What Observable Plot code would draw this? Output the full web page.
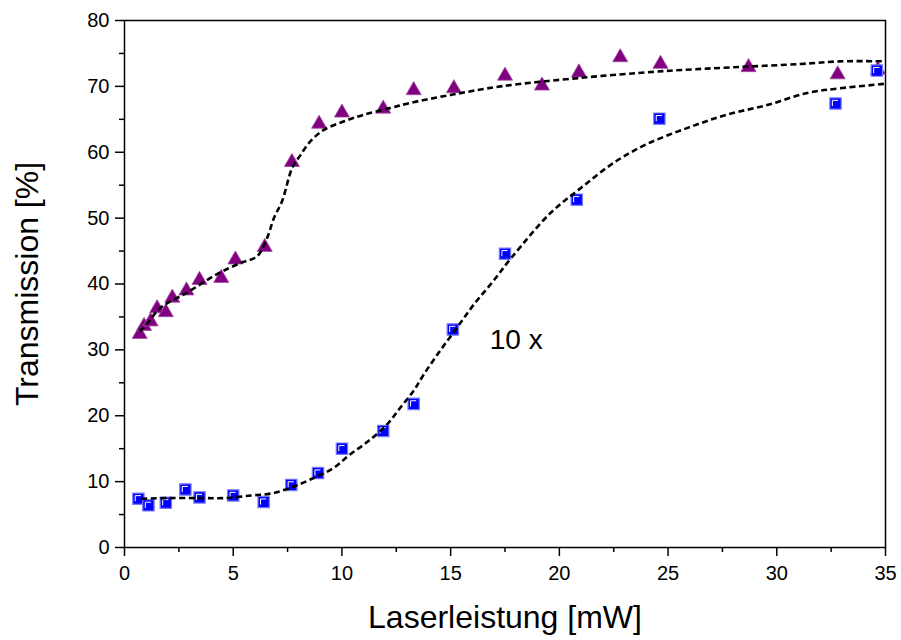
<!DOCTYPE html>
<html>
<head>
<meta charset="utf-8">
<script src="https://cdn.jsdelivr.net/npm/d3@7"></script>
<script src="https://cdn.jsdelivr.net/npm/@observablehq/plot@0.6"></script>
<style>
  html, body { margin: 0; padding: 0; background: #fff; }
  #chart { width: 901px; height: 640px; }
</style>
</head>
<body>
<div id="chart"></div>
<script>
// Measured points, triangle series (undiluted sample)
const triPower = [0.7, 0.9, 1.2, 1.5, 1.9, 2.2, 2.85, 3.45, 4.45, 5.1, 6.45, 7.7, 8.95, 10.0, 11.9, 13.3, 15.15, 17.5, 19.2, 20.9, 22.8, 24.65, 28.7, 32.8, 34.65];
const triTrans = [32.4, 33.6, 34.3, 36.3, 35.7, 37.9, 39.0, 40.6, 40.9, 43.7, 45.6, 58.5, 64.3, 66.0, 66.6, 69.4, 69.7, 71.6, 70.1, 72.1, 74.4, 73.4, 72.9, 71.8, 72.5];

// Measured points, square series (10 x)
const sqPower = [0.64, 1.1, 1.9, 2.8, 3.45, 5.0, 6.4, 7.67, 8.9, 10.0, 11.9, 13.3, 15.1, 17.5, 20.8, 24.6, 32.7, 34.6];
const sqTrans = [7.4, 6.4, 6.8, 8.8, 7.6, 7.9, 6.9, 9.5, 11.3, 15.0, 17.7, 21.8, 33.1, 44.6, 52.8, 65.1, 67.4, 72.4];

// Fitted guide curves
const triFitPower = [0.7, 1.0, 1.66, 2.88, 4.26, 5.34, 6.1, 6.56, 6.87, 7.25, 7.71, 8.1, 8.56, 9.17, 10.1, 11.0, 12.2, 13.15, 15.0, 17.3, 21.0, 24.3, 25.7, 28.0, 31.1, 32.9, 35.0];
const triFitTrans = [32.8, 33.8, 36.4, 38.7, 41.5, 43.2, 44.2, 47.0, 50.0, 52.6, 57.6, 59.6, 61.7, 63.4, 64.7, 65.7, 66.7, 67.5, 68.7, 70.0, 71.3, 72.2, 72.5, 72.9, 73.4, 73.8, 73.8];
const sqFitPower = [0.77, 2.0, 3.5, 4.6, 5.83, 6.75, 7.67, 8.6, 9.63, 10.4, 11.16, 12.08, 12.7, 13.3, 13.77, 14.5, 15.3, 16.07, 16.9, 17.8, 19.6, 21.0, 22.5, 24.0, 25.9, 27.7, 29.6, 31.4, 32.9, 35.0];
const sqFitTrans = [7.4, 7.5, 7.5, 7.5, 7.9, 8.2, 9.1, 10.4, 12.1, 14.2, 16.0, 18.7, 21.3, 23.8, 26.3, 29.8, 33.4, 36.9, 40.2, 44.0, 50.8, 54.6, 58.4, 61.2, 63.7, 65.7, 67.2, 69.0, 69.7, 70.4];

// Axis ticks
const xMajor = [0, 5, 10, 15, 20, 25, 30, 35];
const xMinor = [2.5, 7.5, 12.5, 17.5, 22.5, 27.5, 32.5];
const yMajor = [0, 10, 20, 30, 40, 50, 60, 70, 80];
const yMinor = [5, 15, 25, 35, 45, 55, 65, 75];

const xTitle = "Laserleistung [mW]";
const yTitle = "Transmission [%]";
const annotation = "10 x";

const zip = (xs, ys) => xs.map((x, i) => ({x, y: ys[i]}));
const triangles = zip(triPower, triTrans);
const squares = zip(sqPower, sqTrans);
const triFit = zip(triFitPower, triFitTrans);
const sqFit = zip(sqFitPower, sqFitTrans);

// White corner highlight drawn inside each square marker
const squareHighlight = {
  draw(context, size) {
    const s = Math.sqrt(size) / 2;
    context.moveTo(-s * 0.55, s * 0.45);
    context.lineTo(-s * 0.55, -s * 0.55);
    context.lineTo(s * 0.45, -s * 0.55);
  }
};

const fitStyle = {x: "x", y: "y", curve: "catmull-rom", stroke: "#000", strokeWidth: 2.6, strokeDasharray: "6,3.5", strokeLinecap: "butt"};

const chart = Plot.plot({
  width: 901,
  height: 640,
  marginLeft: 124,
  marginRight: 16,
  marginTop: 20,
  marginBottom: 93,
  x: {domain: [0, 35]},
  y: {domain: [0, 80]},
  style: {fontFamily: "'Liberation Sans', Arial, sans-serif", color: "#000", background: "#fff"},
  marks: [
    Plot.frame({stroke: "#000", strokeWidth: 1.5}),
    Plot.axisX({ticks: xMajor, tickSize: 9, tickPadding: 9, fontSize: 20, label: null, strokeWidth: 1.5}),
    Plot.axisX({ticks: xMinor, tickSize: 5, text: null, label: null, strokeWidth: 1.5}),
    Plot.axisY({ticks: yMajor, tickSize: 9, tickPadding: 6, fontSize: 20, label: null, strokeWidth: 1.5}),
    Plot.axisY({ticks: yMinor, tickSize: 5, text: null, label: null, strokeWidth: 1.5}),
    Plot.text([xTitle], {frameAnchor: "bottom", dy: 70, textAnchor: "middle", lineAnchor: "middle", fontSize: 32, fill: "#000"}),
    Plot.text([yTitle], {frameAnchor: "left", dx: -97, rotate: -90, textAnchor: "middle", lineAnchor: "middle", fontSize: 32, fill: "#000"}),
    Plot.dot(triangles, {x: "x", y: "y", symbol: "triangle", r: 5.6, fill: "#800080", stroke: "#a24ca2", strokeWidth: 0.8}),
    Plot.dot(squares, {x: "x", y: "y", symbol: "square", r: 6.4, fill: "#0000ff", stroke: "#7a7aff", strokeWidth: 1.2}),
    Plot.dot(squares, {x: "x", y: "y", symbol: squareHighlight, r: 6.4, fill: "none", stroke: "#fff", strokeWidth: 1}),
    Plot.line(triFit, fitStyle),
    Plot.line(sqFit, fitStyle),
    Plot.text([annotation], {x: 16.8, y: 31.5, textAnchor: "start", lineAnchor: "middle", fontSize: 28, fill: "#000"})
  ]
});

document.getElementById("chart").appendChild(chart);
</script>
</body>
</html>
